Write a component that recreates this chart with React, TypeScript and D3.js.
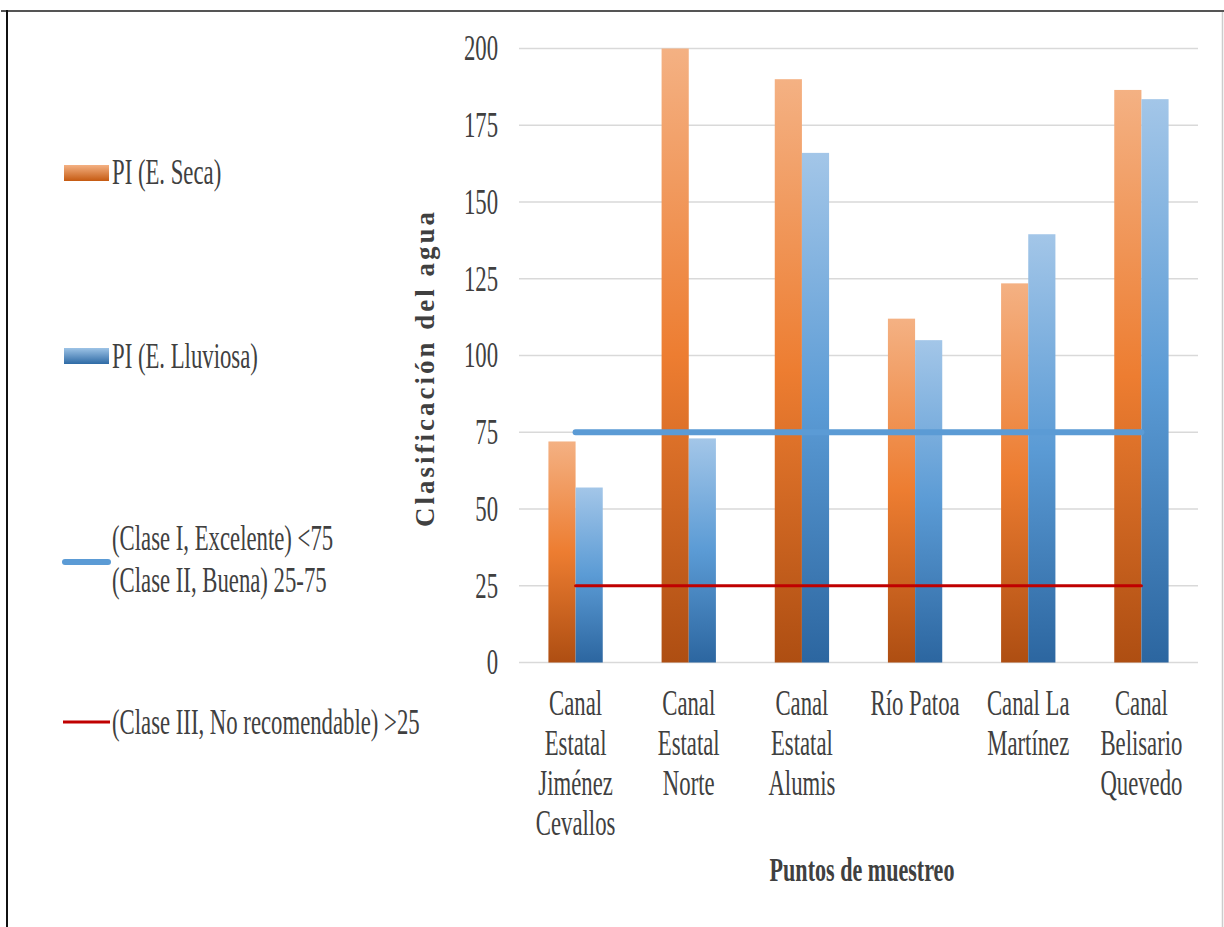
import React from "react";
import * as d3 from "d3";

const categories: string[][] = [
  ["Canal", "Estatal", "Jiménez", "Cevallos"],
  ["Canal", "Estatal", "Norte"],
  ["Canal", "Estatal", "Alumis"],
  ["Río Patoa"],
  ["Canal La", "Martínez"],
  ["Canal", "Belisario", "Quevedo"],
];
const catKeys = categories.map((c) => c.join(" "));
const seca = [72, 200, 190, 112, 123.5, 186.5];
const lluviosa = [57, 73, 166, 105, 139.5, 183.5];
const claseI = [75, 75, 75, 75, 75, 75];
const claseIII = [25, 25, 25, 25, 25, 25];
const yTicks = [0, 25, 50, 75, 100, 125, 150, 175, 200];

const W = 1224;
const H = 927;
const plot = { left: 519, right: 1198, top: 48.5, bottom: 662.5 };
const SX = 0.65;
const FONT = "'Liberation Serif', 'Times New Roman', serif";

function T({ x, y, children, size = 35, anchor = "start", weight = "normal", sx = SX }: any) {
  return (
    <text
      transform={`translate(${x},${y}) scale(${sx},1)`}
      fontFamily={FONT}
      fontSize={size}
      fontWeight={weight}
      textAnchor={anchor}
      dominantBaseline="central"
      fill="#404040"
    >
      {children}
    </text>
  );
}

export default function App() {
  const x = d3.scaleBand<string>().domain(catKeys).range([plot.left, plot.right]).paddingInner(0.52).paddingOuter(0.26);
  const xc = d3.scaleBand<string>().domain(catKeys).range([plot.left, plot.right]);
  const y = d3.scaleLinear().domain([0, 200]).range([plot.bottom, plot.top]);
  const bw = x.bandwidth() / 2;
  const center = (k: string) => (xc(k) as number) + xc.bandwidth() / 2;
  const line = d3
    .line<number>()
    .x((_, i) => center(catKeys[i]))
    .y((d) => y(d));

  return (
    <svg width={W} height={H} style={{ position: "absolute", left: 0, top: 0, background: "#fff" }}>
      <defs>
        <linearGradient id="gOr" x1="0" y1="0" x2="0" y2="1">
          <stop offset="0" stopColor="#F4B183" />
          <stop offset="0.5" stopColor="#ED7D31" />
          <stop offset="1" stopColor="#AE4E12" />
        </linearGradient>
        <linearGradient id="gBl" x1="0" y1="0" x2="0" y2="1">
          <stop offset="0" stopColor="#A3C6E8" />
          <stop offset="0.5" stopColor="#5B9BD5" />
          <stop offset="1" stopColor="#2C66A0" />
        </linearGradient>
        <linearGradient id="gOrL" x1="0" y1="0" x2="0" y2="1">
          <stop offset="0" stopColor="#F4B183" />
          <stop offset="1" stopColor="#C55A11" />
        </linearGradient>
        <linearGradient id="gBlL" x1="0" y1="0" x2="0" y2="1">
          <stop offset="0" stopColor="#9DC3E6" />
          <stop offset="1" stopColor="#2E6AA5" />
        </linearGradient>
      </defs>
      <rect x={0} y={0} width={W} height={H} fill="#fff" />
      {/* frame */}
      <line x1={1} y1={11} x2={W} y2={11} stroke="#555" strokeWidth={2} />
      <line x1={7} y1={10} x2={7} y2={H} stroke="#111" strokeWidth={2} />
      <line x1={1222.5} y1={12} x2={1222.5} y2={H} stroke="#ccc" strokeWidth={1.5} />

      {/* gridlines */}
      {yTicks.map((t) => (
        <line key={t} x1={plot.left} x2={plot.right} y1={y(t)} y2={y(t)} stroke="#d9d9d9" strokeWidth={1.5} />
      ))}
      {yTicks.map((t) => (
        <T key={t} x={498} y={y(t)} anchor="end">
          {t}
        </T>
      ))}

      {/* bars */}
      {catKeys.map((k, i) => (
        <g key={k}>
          <rect x={x(k)} y={y(seca[i])} width={bw} height={y(0) - y(seca[i])} fill="url(#gOr)" />
          <rect x={(x(k) as number) + bw} y={y(lluviosa[i])} width={bw} height={y(0) - y(lluviosa[i])} fill="url(#gBl)" />
        </g>
      ))}

      {/* reference lines */}
      <path d={line(claseI) as string} fill="none" stroke="#5B9BD5" strokeWidth={6} strokeLinecap="round" />
      <path d={line(claseIII) as string} fill="none" stroke="#C00000" strokeWidth={3} strokeLinecap="round" />

      {/* category labels */}
      {catKeys.map((k, i) => (
        <g key={k}>
          {categories[i].map((ln, j) => (
            <T key={j} x={center(k)} y={703 + j * 40} anchor="middle">
              {ln}
            </T>
          ))}
        </g>
      ))}

      {/* axis titles */}
      <T x={862} y={869} anchor="middle" weight="bold" size={34}>
        Puntos de muestreo
      </T>
      <text
        transform={`translate(425,368) rotate(-90)`}
        fontFamily={FONT}
        fontSize={27}
        fontWeight="bold"
        letterSpacing={3}
        textAnchor="middle"
        dominantBaseline="central"
        fill="#404040"
      >
        Clasificación  del  agua
      </text>

      {/* legend */}
      <rect x={64} y={165} width={45} height={16} fill="url(#gOrL)" />
      <T x={112} y={172}>PI (E. Seca)</T>
      <rect x={64} y={348} width={45} height={16} fill="url(#gBlL)" />
      <T x={112} y={356}>PI (E. Lluviosa)</T>
      <line x1={65} x2={108} y1={562} y2={562} stroke="#5B9BD5" strokeWidth={6} strokeLinecap="round" />
      <T x={112} y={538}>(Clase I, Excelente) &lt;75</T>
      <T x={112} y={580}>(Clase II, Buena) 25-75</T>
      <line x1={63} x2={110} y1={722} y2={722} stroke="#C00000" strokeWidth={3} />
      <T x={112} y={722}>(Clase III, No recomendable) &gt;25</T>
    </svg>
  );
}
